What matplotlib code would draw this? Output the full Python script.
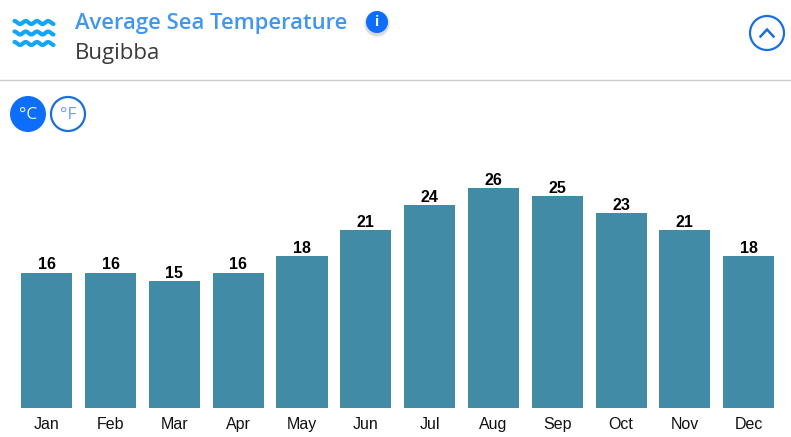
import numpy as np
import matplotlib
matplotlib.use('Agg')
import matplotlib.pyplot as plt
from matplotlib.patches import Circle

months = ['Jan', 'Feb', 'Mar', 'Apr', 'May', 'Jun', 'Jul', 'Aug', 'Sep', 'Oct', 'Nov', 'Dec']
temps = [16, 16, 15, 16, 18, 21, 24, 26, 25, 23, 21, 18]

W, H = 791, 437
BLUE = '#0d6efd'
BAR = '#428ba6'
PX_PER_DEG = 8.46

fig = plt.figure(figsize=(W / 100, H / 100), dpi=100, facecolor='white')

# header and buttons are laid out in pixels on a full-size overlay
top = fig.add_axes([0, 0, 1, 1])
top.set_xlim(0, W)
top.set_ylim(H, 0)
top.axis('off')

# wave icon
xw = np.linspace(14.5, 53.5, 200)
for y0 in [22.5, 33, 43.5]:
	top.plot(xw, y0 - 1.5 * np.cos((xw - 14.5) * 2 * np.pi / 11.2), color='#12a5f8', lw=3.0,
		solid_capstyle='round')

top.text(75, 23, 'Average Sea Temperature', family='Open Sans', weight='semibold', fontsize=15.85,
	color='#4196f0', va='center', ha='left')
top.text(75, 53, 'Bugibba', family='Open Sans', fontsize=16, color='#3a3a3a', va='center', ha='left')

# info button with a soft shadow
for r, a in [(13.5, 0.05), (12.5, 0.08), (11.8, 0.1)]:
	top.add_patch(Circle((377, 24), r, fc='#555555', ec='none', alpha=a))
top.add_patch(Circle((377, 22), 11, fc=BLUE, ec='none'))
top.text(377, 22, 'i', family='Open Sans', weight='bold', fontsize=10, color='white', ha='center', va='center')

# collapse button
top.add_patch(Circle((767, 33), 17, fc='white', ec='#1a6fdc', lw=1.6))
top.plot([760.5, 767, 773.5], [36.5, 29.5, 36.5], color='#1a6fdc', lw=1.8, solid_joinstyle='miter')

top.plot([0, W], [79.5, 79.5], color='#cccccc', lw=1)

# unit switches
top.add_patch(Circle((28, 114), 18, fc=BLUE, ec='none'))
top.text(28, 115, '°C', family='Open Sans', fontsize=12.5, color='#e8f0ff', ha='center', va='center')
top.add_patch(Circle((68, 114), 17, fc='white', ec='#1a6fdc', lw=1.6))
top.text(68, 115, '°F', family='Open Sans', fontsize=12.5, color='#6f9fe8', ha='center', va='center')

# bars
ax = fig.add_axes([14.8 / W, 1 - 408 / H, 765.8 / W, 268 / H])
x = np.arange(len(months))
ax.bar(x, temps, width=0.8, color=BAR)
ax.set_xlim(-0.5, 11.5)
ax.set_ylim(0, 268 / PX_PER_DEG)
ax.set_xticks(x)
ax.set_xticklabels(months, family='Liberation Sans', fontsize=11.5, color='#111111')
ax.set_yticks([])
ax.tick_params(axis='x', length=0, pad=6.5)
for s in ax.spines.values():
	s.set_visible(False)
ax.patch.set_alpha(0)
for i, t in enumerate(temps):
	ax.text(i, t + 0.02, str(t), family='Liberation Sans', weight='bold', fontsize=11.5, color='black',
		ha='center', va='bottom')

fig.savefig('out.png', dpi=100)
